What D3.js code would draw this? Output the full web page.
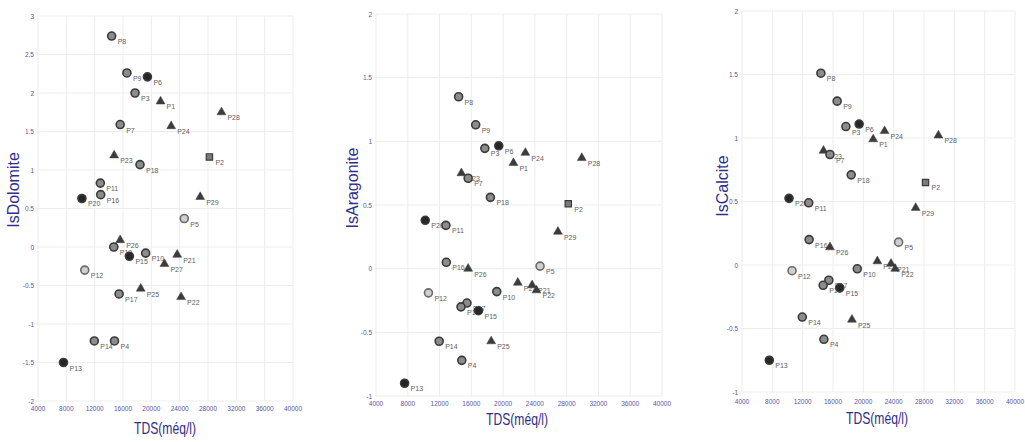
<!DOCTYPE html>
<html>
<head>
<meta charset="utf-8">
<script src="https://cdn.jsdelivr.net/npm/d3@7"></script>
<style>
  body { margin: 0; background: #fff; }
  svg { display: block; }
</style>
</head>
<body>
<div id="chart"></div>
<script>
// point names and TDS (shared by the three panels)
const points = ["P1","P2","P3","P4","P5","P6","P7","P8","P9","P10",
  "P11","P12","P13","P14","P15","P16","P17","P18","P19","P20",
  "P21","P22","P23","P24","P25","P26","P27","P28","P29"];
const tds = [21300, 28200, 17700, 14800, 24650, 19450, 15600, 14400, 16550, 19200,
  12800, 10600, 7600, 11950, 16900, 12850, 15450, 18400, 14700, 10200,
  23650, 24200, 14750, 22800, 18500, 15600, 21850, 29900, 26900];
// marker kind per point
const kinds = ["tri","sq","circ","circ","light","dark","circ","circ","circ","circ",
  "circ","light","dark","circ","dark","circ","circ","circ","circ","dark",
  "tri","tri","tri","tri","tri","tri","tri","tri","tri"];

const isDolomite = [1.89, 1.17, 2.0, -1.22, 0.37, 2.21, 1.59, 2.74, 2.26, -0.08,
  0.83, -0.30, -1.50, -1.22, -0.12, 0.68, -0.61, 1.07, 0.0, 0.63,
  -0.10, -0.65, 1.19, 1.57, -0.54, 0.09, -0.22, 1.75, 0.65];
const isAragonite = [0.83, 0.51, 0.945, -0.72, 0.02, 0.965, 0.71, 1.35, 1.13, -0.18,
  0.34, -0.19, -0.90, -0.57, -0.33, 0.05, -0.27, 0.56, -0.30, 0.38,
  -0.13, -0.17, 0.75, 0.91, -0.57, 0.0, -0.11, 0.87, 0.29];
const isCalcite = [0.99, 0.65, 1.09, -0.585, 0.18, 1.11, 0.87, 1.51, 1.29, -0.03,
  0.49, -0.045, -0.75, -0.41, -0.18, 0.20, -0.12, 0.71, -0.16, 0.525,
  0.01, -0.03, 0.90, 1.055, -0.43, 0.14, 0.03, 1.02, 0.45];

const xTicks = [4000, 8000, 12000, 16000, 20000, 24000, 28000, 32000, 36000, 40000];
const dolomiteTicks = [-2, -1.5, -1, -0.5, 0, 0.5, 1, 1.5, 2, 2.5, 3];
const smallTicks = [-1, -0.5, 0, 0.5, 1, 1.5, 2];

const panels = [
  { title: "IsDolomite", values: isDolomite, ticks: dolomiteTicks, domain: [-2, 3],
    left: 38, right: 293, top: 16, bottom: 401, xLabY: 411, yTitleX: 13, yTitleY: 190, xTitleX: 165, xTitleY: 434 },
  { title: "IsAragonite", values: isAragonite, ticks: smallTicks, domain: [-1, 2],
    left: 376, right: 662, top: 14, bottom: 396, xLabY: 406, yTitleX: 352, yTitleY: 188, xTitleX: 517, xTitleY: 425 },
  { title: "IsCalcite", values: isCalcite, ticks: smallTicks, domain: [-1, 2],
    left: 742, right: 1015, top: 11, bottom: 392, xLabY: 404, yTitleX: 722, yTitleY: 186, xTitleX: 877, xTitleY: 424 }
];

const navy = "#2f2f8a";
const tickColor = "#5656a8";
const font = "'Liberation Sans', Arial, sans-serif";

const svg = d3.select("#chart").append("svg")
  .attr("width", 1025)
  .attr("height", 442);

panels.forEach(p => {
  const x = d3.scaleLinear().domain([4000, 40000]).range([p.left, p.right]);
  const y = d3.scaleLinear().domain(p.domain).range([p.bottom, p.top]);
  const g = svg.append("g");

  // grid
  g.selectAll(".vg").data(xTicks).join("line")
    .attr("x1", d => x(d)).attr("x2", d => x(d))
    .attr("y1", p.top).attr("y2", p.bottom)
    .attr("stroke", "#ededed").attr("stroke-width", 1);
  g.selectAll(".hg").data(p.ticks).join("line")
    .attr("x1", p.left - 2).attr("x2", p.right)
    .attr("y1", d => y(d)).attr("y2", d => y(d))
    .attr("stroke", "#ededed").attr("stroke-width", 1);

  // tick labels
  g.selectAll(".yl").data(p.ticks).join("text")
    .attr("x", p.left - 4).attr("y", d => y(d) + 2.5)
    .attr("text-anchor", "end")
    .style("font-family", font)
    .style("font-size", "6.5px")
    .style("fill", tickColor)
    .text(d => d);
  g.selectAll(".xl").data(xTicks).join("text")
    .attr("x", d => x(d)).attr("y", p.xLabY)
    .attr("text-anchor", "middle")
    .style("font-family", font)
    .style("font-size", "6.5px")
    .style("fill", tickColor)
    .text(d => d);

  // axis titles
  g.append("text")
    .attr("transform", `translate(${p.yTitleX},${p.yTitleY}) rotate(-90)`)
    .attr("text-anchor", "middle")
    .attr("dy", "0.35em")
    .style("font-family", font)
    .style("font-size", "16px")
    .style("fill", navy)
    .text(p.title);
  g.append("text")
    .attr("x", p.xTitleX - 31).attr("y", p.xTitleY)
    .attr("textLength", 62)
    .attr("lengthAdjust", "spacingAndGlyphs")
    .style("font-family", font)
    .style("font-size", "17px")
    .style("fill", navy)
    .text("TDS(méq/l)");

  const rows = points.map((name, i) => ({ name, tds: tds[i], v: p.values[i], kind: kinds[i] }));

  // point labels (under the markers)
  g.selectAll(".pl").data(rows).join("text")
    .attr("x", d => x(d.tds) + 6).attr("y", d => y(d.v) + 8)
    .style("font-family", font)
    .style("font-size", "7px")
    .style("fill", "#606060")
    .text(d => d.name);

  // markers
  const sym = d3.symbol().type(d => d.kind === "tri" ? d3.symbolTriangle : d3.symbolSquare)
    .size(d => d.kind === "tri" ? 34 : 40);
  g.selectAll(".ps").data(rows.filter(d => d.kind === "tri" || d.kind === "sq")).join("path")
    .attr("transform", d => `translate(${x(d.tds)},${y(d.v)})`)
    .attr("d", sym)
    .attr("fill", d => d.kind === "tri" ? "#3c3c3c" : "#7a7a7a")
    .attr("stroke", "#3a3a3a")
    .attr("stroke-width", d => d.kind === "tri" ? 0.5 : 1.2);
  g.selectAll(".pc").data(rows.filter(d => d.kind !== "tri" && d.kind !== "sq")).join("circle")
    .attr("cx", d => x(d.tds)).attr("cy", d => y(d.v))
    .attr("r", 4)
    .attr("fill", d => d.kind === "dark" ? "#262626" : d.kind === "light" ? "#cfcfcf" : "#8c8c8c")
    .attr("stroke", d => d.kind === "light" ? "#6a6a6a" : "#3a3a3a")
    .attr("stroke-width", 1.6);
});
</script>
</body>
</html>
